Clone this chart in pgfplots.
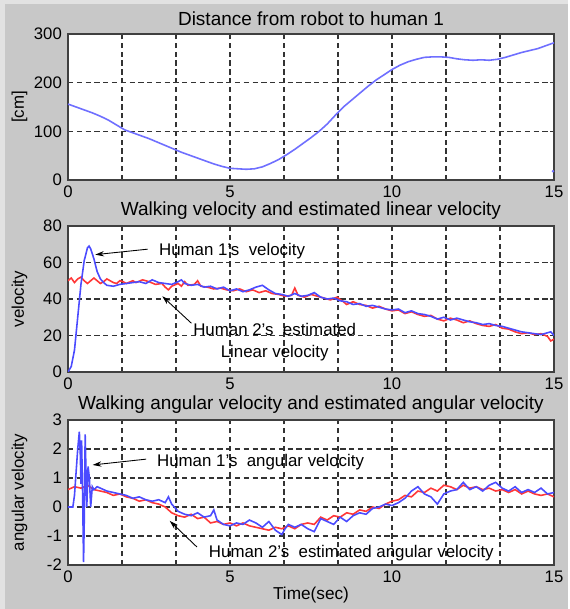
\documentclass[border=0pt]{standalone}
\usepackage{fontspec}
\setmainfont{Liberation Sans}
\usepackage{pgfplots}
\pgfplotsset{compat=1.18}
\usetikzlibrary{arrows.meta}
\definecolor{bgd}{RGB}{200,200,200}
\definecolor{bgl}{RGB}{226,226,226}
\definecolor{mblue}{RGB}{75,75,255}
\definecolor{mred}{RGB}{255,55,55}

\tikzset{ann/.style={font=\fontsize{9.6}{11}\selectfont, inner sep=0pt}}
\pgfplotsset{
  mlab/.style={
    scale only axis, width=9.72cm, height=2.92cm, anchor=south west,
    axis background/.style={fill=white},
    xmin=0, xmax=15,
    xtick={0,1.6667,3.3333,5,6.6667,8.3333,10,11.6667,13.3333,15},
    xticklabels={0,,,5,,,10,,,15},
    grid=major,
    major grid style={black!80, dash pattern=on 3pt off 2pt, line width=0.6pt},
    axis line style={black!75, line width=0.8pt},
    tick align=inside, major tick length=2.5pt,
    tick style={black!80, line width=0.6pt},
    tick label style={font=\fontsize{9.5}{10}\selectfont},
    xticklabel style={yshift=0pt},
    /pgf/number format/assume math mode=true,
    title style={font=\fontsize{10.8}{12}\selectfont, at={(0.5,1)}, anchor=center, yshift=0.09cm},
    ylabel style={font=\fontsize{9.6}{11}\selectfont, at={(axis description cs:-0.1,0.5)}, anchor=center},
    xlabel style={font=\fontsize{9.8}{11}\selectfont},
    clip=true,
  },
}

\begin{document}
\begin{tikzpicture}[x=1cm,y=1cm]
\fill[bgl] (0,0) rectangle (11.36,12.18);
\fill[bgd] (0.1,0) rectangle (11.36,12.1);

% top: distance
\begin{axis}[mlab, at={(1.36cm,8.58cm)},
  ymin=0, ymax=300, ytick={0,100,200,300},
  title={Distance from robot to human 1}, ylabel={[cm]}]
\addplot[color=mblue!80, line width=0.9pt] coordinates {
(0,156) (0.25,150) (0.5,144) (0.75,138) (1,131) (1.25,123) (1.5,113) (1.75,103) (2,97)
(2.25,91) (2.5,85) (2.75,78) (3,71) (3.25,64) (3.5,57) (3.75,51) (4,45) (4.25,39) (4.5,33)
(4.75,28) (5,24) (5.25,23) (5.5,22) (5.75,23) (6,27) (6.25,34) (6.5,42) (6.75,52) (7,63)
(7.25,75) (7.5,87) (7.75,100) (8,115) (8.25,133) (8.5,150) (8.75,164) (9,178) (9.25,192)
(9.5,205) (9.75,216) (10,227) (10.25,236) (10.5,243) (10.75,248) (11,252) (11.25,253)
(11.5,253) (11.75,252) (12,249) (12.25,247) (12.5,246) (12.75,247) (13,246) (13.25,248)
(13.5,252) (13.75,257) (14,262) (14.25,266) (14.5,270) (14.75,276) (15,282)};
\addplot[only marks, mark=*, mark size=0.5pt, color=mblue!80] coordinates {(14.97,18)};
\end{axis}

% middle: linear velocity
\begin{axis}[mlab, at={(1.36cm,4.74cm)},
  ymin=0, ymax=80, ytick={0,20,40,60,80},
  title={Walking velocity and estimated linear velocity}, ylabel={velocity}]
\addplot[color=mred, line width=0.9pt] coordinates {
(0,50) (0.1,51.5) (0.2,49) (0.3,51) (0.4,52) (0.5,50) (0.6,48.5) (0.7,50) (0.8,51.5) (0.9,50)
(1.0,48.5) (1.1,49.5) (1.2,51) (1.3,50) (1.4,49) (1.5,48.5) (1.6,50) (1.7,49.5) (1.8,48.5)
(2.0,50) (2.1,49) (2.3,50.5) (2.5,49.5) (2.7,48) (2.9,48.5) (3.0,46.5) (3.1,45) (3.2,47)
(3.4,48.5) (3.5,47) (3.6,49.5) (3.7,47.5) (3.9,48) (4.0,50) (4.1,47) (4.3,46.5) (4.5,45.5)
(4.7,46) (4.9,45) (5.1,44.5) (5.3,45.5) (5.5,44) (5.7,45) (5.9,43.5) (6.1,44.5) (6.3,43)
(6.5,42.5) (6.7,41.5) (6.9,42) (7.0,46) (7.1,42) (7.3,41) (7.5,42.5) (7.7,41.5) (7.9,40.5)
(8.1,39.5) (8.3,41) (8.5,38.5) (8.6,37) (8.8,38.5) (9.0,37) (9.2,36.5) (9.4,35) (9.6,36)
(9.8,34.5) (10.0,33.5) (10.2,34) (10.4,32) (10.6,33) (10.8,31.5) (11.0,30.5) (11.2,31)
(11.4,29) (11.6,28) (11.8,29.5) (12.0,28.5) (12.2,27) (12.4,28) (12.6,26.5) (12.8,25.5)
(13.0,25) (13.2,26) (13.4,24) (13.6,23.5) (13.8,22) (14.0,21) (14.2,21.5) (14.4,20.5)
(14.6,21) (14.8,19.5) (14.9,17) (15.0,18)};
\addplot[color=mblue, line width=0.9pt] coordinates {
(0,0) (0.1,3) (0.2,12) (0.3,30) (0.4,48) (0.5,61) (0.6,68) (0.65,69) (0.7,67.5) (0.8,62)
(0.9,55) (1.0,51) (1.1,49) (1.2,47.5) (1.4,47) (1.6,48) (1.8,48.5) (2.0,49) (2.2,49.5)
(2.4,48.5) (2.6,50.5) (2.8,49) (3.0,48.5) (3.2,48) (3.4,49.5) (3.5,50.5) (3.6,48.5)
(3.8,47.5) (4.0,48) (4.2,46.5) (4.4,47) (4.6,45.5) (4.8,46.5) (5.0,44.5) (5.2,45.5)
(5.4,44) (5.6,45) (5.8,46.5) (6.0,47.5) (6.2,45) (6.4,43) (6.6,42.5) (6.8,41.5) (7.0,43)
(7.2,41.5) (7.4,42) (7.6,43.5) (7.8,41) (8.0,40) (8.2,40.5) (8.4,39) (8.6,38.5) (8.8,37)
(9.0,37.5) (9.2,36) (9.4,36.5) (9.6,35.5) (9.8,34.5) (10.0,34) (10.2,34.5) (10.4,32.5)
(10.6,33.5) (10.8,32) (11.0,31.5) (11.2,30.5) (11.4,29) (11.6,30) (11.8,28.5) (12.0,29.5)
(12.2,28.5) (12.4,27.5) (12.6,27) (12.8,26) (13.0,26.5) (13.2,25.5) (13.4,25) (13.6,24)
(13.8,23) (14.0,22) (14.2,21.5) (14.4,21) (14.6,20.5) (14.8,21.5) (14.9,22) (15.0,20)};
\draw[-{Stealth[length=5pt,width=3pt]}, line width=0.5pt] (axis cs:2.46,67.3) -- (axis cs:0.84,64.3);
\node[ann, anchor=west] at (axis cs:2.8,66) {Human 1's\ \ velocity};
\draw[-{Stealth[length=5pt,width=3pt]}, line width=0.5pt] (axis cs:3.81,26.7) -- (axis cs:2.91,41.5);
\node[ann, align=center] at (axis cs:6.38,16.4) {Human 2's\ \ estimated\\[2pt] Linear velocity};
\end{axis}

% bottom: angular velocity
\begin{axis}[mlab, at={(1.36cm,0.88cm)}, height=2.9cm,
  ymin=-2, ymax=3, ytick={-2,-1,0,1,2,3},
  title={Walking angular velocity and estimated angular velocity},
  ylabel={angular velocity}, xlabel={Time(sec)},
  xlabel style={at={(axis description cs:0.5,0)}, anchor=center, yshift=-0.6cm}]
\addplot[color=mred, line width=0.9pt] coordinates {
(0,0.6) (0.2,0.7) (0.4,0.65) (0.6,0.75) (0.8,0.6) (1.0,0.55) (1.2,0.5) (1.4,0.4) (1.6,0.45)
(1.8,0.35) (2.0,0.3) (2.2,0.2) (2.4,0.25) (2.6,0.15) (2.8,0.1) (3.0,0.0) (3.2,-0.2) (3.4,-0.3)
(3.6,-0.35) (3.8,-0.25) (4.0,-0.4) (4.2,-0.35) (4.4,-0.55) (4.6,-0.5) (4.8,-0.6) (5.0,-0.55)
(5.2,-0.65) (5.4,-0.55) (5.6,-0.65) (5.8,-0.7) (6.0,-0.75) (6.2,-0.8) (6.4,-0.7) (6.6,-0.75)
(6.8,-0.65) (7.0,-0.75) (7.2,-0.6) (7.4,-0.55) (7.6,-0.6) (7.8,-0.35) (8.0,-0.45) (8.2,-0.3)
(8.4,-0.35) (8.6,-0.2) (8.8,-0.25) (9.0,-0.1) (9.2,-0.15) (9.4,0.0) (9.6,-0.05) (9.8,0.1)
(10.0,0.2) (10.2,0.25) (10.4,0.4) (10.6,0.35) (10.8,0.55) (11.0,0.5) (11.2,0.65) (11.4,0.55)
(11.6,0.75) (11.8,0.7) (12.0,0.6) (12.2,0.75) (12.4,0.65) (12.6,0.7) (12.8,0.6) (13.0,0.65)
(13.2,0.55) (13.4,0.6) (13.6,0.5) (13.8,0.6) (14.0,0.45) (14.2,0.55) (14.4,0.45) (14.6,0.4)
(14.8,0.45) (15.0,0.35)};
\addplot[color=mblue, line width=0.9pt] coordinates {
(0,0) (0.15,0) (0.2,0.4) (0.25,1.2) (0.3,2.0) (0.35,2.6) (0.38,1.8) (0.4,0.8) (0.42,2.3)
(0.45,0.5) (0.48,-1.9) (0.5,-0.6) (0.53,2.5) (0.56,1.0) (0.58,0.0) (0.62,1.4) (0.66,1.0)
(0.7,0.0) (0.75,0.7) (0.8,0.6) (0.9,0.7) (1.0,0.65) (1.2,0.55) (1.4,0.5) (1.6,0.45)
(1.8,0.4) (2.0,0.3) (2.2,0.35) (2.4,0.25) (2.6,0.2) (2.8,0.25) (3.0,0.15) (3.1,0.35)
(3.2,0.1) (3.4,-0.15) (3.6,-0.25) (3.8,-0.3) (4.0,-0.2) (4.2,-0.35) (4.4,-0.3) (4.5,-0.1)
(4.6,-0.45) (4.8,-0.6) (5.0,-0.65) (5.2,-0.55) (5.4,-0.6) (5.6,-0.45) (5.8,-0.55) (6.0,-0.7)
(6.2,-0.5) (6.4,-0.8) (6.6,-0.95) (6.7,-0.75) (6.8,-0.6) (7.0,-0.7) (7.2,-0.6) (7.4,-0.75)
(7.6,-0.85) (7.8,-0.4) (8.0,-0.5) (8.2,-0.6) (8.4,-0.35) (8.6,-0.5) (8.8,-0.3) (9.0,-0.2)
(9.2,-0.25) (9.4,-0.05) (9.6,0.0) (9.8,0.1) (10.0,0.05) (10.2,0.15) (10.4,0.3) (10.6,0.55)
(10.8,0.7) (11.0,0.45) (11.2,0.35) (11.4,0.1) (11.6,0.45) (11.8,0.55) (12.0,0.6) (12.2,0.85)
(12.4,0.6) (12.6,0.7) (12.8,0.55) (13.0,0.75) (13.2,0.85) (13.4,0.65) (13.6,0.55) (13.8,0.7)
(14.0,0.5) (14.2,0.6) (14.4,0.5) (14.6,0.65) (14.8,0.45) (15.0,0.5)};
\draw[-{Stealth[length=5pt,width=3pt]}, line width=0.5pt] (axis cs:2.41,1.65) -- (axis cs:0.76,1.45);
\node[ann, anchor=west] at (axis cs:2.74,1.56) {Human 1's\ \ angular velocity};
\draw[-{Stealth[length=5pt,width=3pt]}, line width=0.5pt] (axis cs:3.98,-1.38) -- (axis cs:3.14,-0.48);
\node[ann, anchor=west] at (axis cs:4.34,-1.58) {Human 2's\ \ estimated angular velocity};
\end{axis}
\end{tikzpicture}
\end{document}
